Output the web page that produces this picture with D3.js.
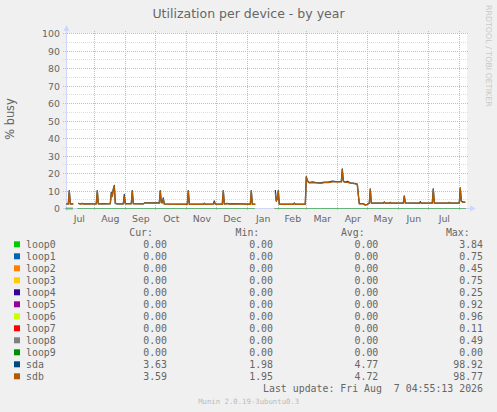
<!DOCTYPE html>
<html>
<head>
<meta charset="utf-8">
<script src="https://cdn.jsdelivr.net/npm/d3@7"></script>
<style>
  html, body { margin: 0; padding: 0; background: #F0F0F0; }
  svg { display: block; }
  text { fill: #666666; }
  .mono { font-family: "DejaVu Sans Mono", monospace; white-space: pre; }
  .sans { font-family: "DejaVu Sans", sans-serif; }
  .grid { shape-rendering: crispEdges; }
</style>
</head>
<body>
<div id="chart"></div>
<script>
// ============================================================================
// DATA
// ============================================================================

const seriesNames  = ["loop0", "loop1", "loop2", "loop3", "loop4", "loop5",
                      "loop6", "loop7", "loop8", "loop9", "sda", "sdb"];
const seriesColors = ["#00CC00", "#0066B3", "#FF8000", "#FFCC00", "#330099", "#990099",
                      "#CCFF00", "#FF0000", "#808080", "#008F00", "#00487D", "#B35A00"];

const curVals = ["0.00", "0.00", "0.00", "0.00", "0.00", "0.00", "0.00", "0.00", "0.00", "0.00", "3.63", "3.59"];
const minVals = ["0.00", "0.00", "0.00", "0.00", "0.00", "0.00", "0.00", "0.00", "0.00", "0.00", "1.98", "1.95"];
const avgVals = ["0.00", "0.00", "0.00", "0.00", "0.00", "0.00", "0.00", "0.00", "0.00", "0.00", "4.77", "4.72"];
const maxVals = ["3.84", "0.75", "0.45", "0.75", "0.25", "0.92", "0.96", "0.11", "0.49", "0.00", "98.92", "98.77"];

const yTicks = [0, 10, 20, 30, 40, 50, 60, 70, 80, 90, 100];

// loop devices: flat 0 where they have data
const loopSpans = [
    ["2025-07-03", "2025-07-10"],
    ["2025-07-15", "2026-01-08"],
    ["2026-01-28", "2026-08-07"]
];

// sda / sdb daily % busy (null = no data)
const sdDates = [
    "2025-07-03", "2025-07-05", "2025-07-06", "2025-07-07", "2025-07-10", "2025-07-12", "2025-07-15", "2025-07-17", "2025-07-19", "2025-07-21", "2025-07-30",
    "2025-08-02", "2025-08-03", "2025-08-04", "2025-08-10", "2025-08-12", "2025-08-16", "2025-08-17", "2025-08-18", "2025-08-19", "2025-08-20", "2025-08-21", "2025-08-23", "2025-08-29", "2025-08-30", "2025-08-31",
    "2025-09-06", "2025-09-07", "2025-09-08", "2025-09-18", "2025-09-20", "2025-09-22",
    "2025-10-04", "2025-10-05", "2025-10-06", "2025-10-07", "2025-10-08", "2025-10-09",
    "2025-11-01", "2025-11-02", "2025-11-03", "2025-11-17", "2025-11-18", "2025-11-19", "2025-11-27", "2025-11-28", "2025-11-29",
    "2025-12-06", "2025-12-07", "2025-12-08", "2025-12-11", "2025-12-13", "2025-12-15",
    "2026-01-03", "2026-01-04", "2026-01-05", "2026-01-08", "2026-01-18", "2026-01-28", "2026-01-29", "2026-01-30", "2026-01-31",
    "2026-02-01", "2026-02-15", "2026-02-16", "2026-02-17", "2026-02-27", "2026-02-28",
    "2026-03-01", "2026-03-03", "2026-03-06", "2026-03-10", "2026-03-14", "2026-03-18", "2026-03-22", "2026-03-26", "2026-03-30",
    "2026-04-04", "2026-04-05", "2026-04-06", "2026-04-08", "2026-04-10", "2026-04-13", "2026-04-17", "2026-04-20", "2026-04-21", "2026-04-22", "2026-04-26", "2026-04-28", "2026-04-30",
    "2026-05-02", "2026-05-03", "2026-05-04", "2026-05-16", "2026-05-17", "2026-05-18", "2026-05-22", "2026-05-23", "2026-05-24",
    "2026-06-05", "2026-06-06", "2026-06-07", "2026-06-21", "2026-06-22", "2026-06-23",
    "2026-07-04", "2026-07-05", "2026-07-06", "2026-07-20", "2026-07-21", "2026-07-22", "2026-07-31",
    "2026-08-01", "2026-08-02", "2026-08-04", "2026-08-06"
];

const sdaBusy = [
    2.7, 2.6, 10.2, 2.6, 2.6, null, 3.0, 2.6, 2.9, 2.6, 2.7,
    2.7, 10.2, 2.7, 2.8, 2.7, 2.8, 9.2, 7.0, 11.2, 13.2, 3.0, 2.7, 2.7, 8.0, 2.8,
    2.8, 10.2, 2.8, 2.7, 3.4, 3.2,
    3.2, 10.2, 3.4, 3.3, 6.0, 2.6,
    2.5, 10.2, 2.5, 2.5, 3.0, 2.5, 2.6, 4.3, 2.6,
    2.5, 10.2, 2.6, 2.9, 2.6, 2.8,
    2.5, 10.2, 2.5, 2.5, null, 10.6, 4.2, 5.5, 10.2,
    2.5, 2.5, 3.1, 2.5, 2.5, 18.2,
    16.0, 14.8, 15.2, 14.8, 14.6, 15.0, 15.0, 15.6, 15.4,
    15.3, 22.6, 15.8, 15.0, 15.5, 14.6, 14.3, 13.9, 8.0, 2.8, 2.8, 2.0, 2.4,
    3.1, 11.2, 3.1, 3.1, 3.8, 3.1, 3.1, 3.5, 3.1,
    3.1, 7.2, 3.2, 3.1, 3.9, 3.1,
    3.1, 11.2, 3.1, 3.1, 3.5, 3.1, 3.1,
    11.8, 4.2, 3.6, 3.7
];

const sdbBusy = [
    2.6, 2.5, 10.0, 2.5, 2.5, null, 2.9, 2.5, 2.8, 2.5, 2.6,
    2.6, 10.0, 2.6, 2.7, 2.6, 2.7, 8.6, 6.8, 10.8, 12.8, 2.9, 2.6, 2.6, 7.0, 2.7,
    2.7, 10.0, 2.7, 2.6, 3.3, 3.1,
    3.1, 10.0, 3.3, 3.2, 5.3, 2.5,
    2.4, 10.0, 2.4, 2.4, 2.9, 2.4, 2.5, 3.4, 2.5,
    2.4, 10.0, 2.5, 2.8, 2.5, 2.7,
    2.4, 10.0, 2.4, 2.4, null, 8.8, 4.5, 5.5, 10.0,
    2.4, 2.4, 3.0, 2.4, 2.4, 18.0,
    15.8, 14.6, 14.6, 14.6, 14.4, 14.8, 14.8, 15.2, 15.2,
    15.2, 22.0, 15.5, 14.9, 14.9, 14.5, 14.2, 13.8, 8.0, 2.7, 2.7, 1.9, 2.3,
    3.0, 11.0, 3.0, 3.0, 3.4, 3.0, 3.0, 3.3, 3.0,
    3.0, 7.0, 3.1, 3.0, 3.3, 3.0,
    3.0, 11.0, 3.0, 3.0, 3.4, 3.0, 3.0,
    11.5, 4.0, 3.5, 3.6
];

const timeStart = "2025-07-03T04:55:13Z";
const timeEnd   = "2026-08-07T04:55:13Z";


// ============================================================================
// SETUP
// ============================================================================

const W = 497, H = 412;
const plot = { left: 66, right: 466, top: 33, bottom: 208 };

const AXIS  = "#CFD6F8";
const MGRID = "#ffa4a4";
const GRID  = "#dddddd";

const parseDay = d3.utcParse("%Y-%m-%d");
const atNoon   = s => d3.utcHour.offset(parseDay(s), 12);
const crisp    = v => Math.floor(v) + 0.5;

const svg = d3.select("#chart")
    .append("svg")
    .attr("width", W)
    .attr("height", H);

const x = d3.scaleUtc()
    .domain([new Date(timeStart), new Date(timeEnd)])
    .range([plot.left, plot.right]);

const y = d3.scaleLinear()
    .domain([0, 100])
    .range([plot.bottom + 0.5, plot.top + 0.5]);

// canvas
svg.append("rect")
    .attr("x", plot.left)
    .attr("y", plot.top)
    .attr("width", plot.right - plot.left + 1)
    .attr("height", plot.bottom - plot.top + 1)
    .attr("fill", "#ffffff");


// ============================================================================
// GRID
// ============================================================================

const minorY = d3.range(5, 100, 10);

svg.selectAll("line.minor-y")
    .data(minorY)
    .join("line")
    .attr("class", "minor-y grid")
    .attr("x1", plot.left - 3).attr("x2", plot.right + 3)
    .attr("y1", d => crisp(y(d))).attr("y2", d => crisp(y(d)))
    .attr("stroke", GRID)
    .attr("stroke-dasharray", "1,1");

svg.selectAll("line.major-y")
    .data(yTicks.filter(d => d > 0))
    .join("line")
    .attr("class", "major-y grid")
    .attr("x1", plot.left - 3).attr("x2", plot.right + 3)
    .attr("y1", d => crisp(y(d))).attr("y2", d => crisp(y(d)))
    .attr("stroke", MGRID)
    .attr("stroke-dasharray", "1,1");

const monthStarts = d3.utcMonth.range(x.domain()[0], x.domain()[1])
    .filter(d => d > x.domain()[0]);

svg.selectAll("line.major-x")
    .data(monthStarts)
    .join("line")
    .attr("class", "major-x grid")
    .attr("x1", d => crisp(x(d))).attr("x2", d => crisp(x(d)))
    .attr("y1", plot.top - 2).attr("y2", plot.bottom + 3)
    .attr("stroke", MGRID)
    .attr("stroke-dasharray", "1,1");


// ============================================================================
// AXES
// ============================================================================

svg.append("line")
    .attr("x1", plot.left + 0.5).attr("x2", plot.left + 0.5)
    .attr("y1", plot.bottom + 3).attr("y2", plot.top - 4)
    .attr("stroke", AXIS);

svg.append("path")
    .attr("d", `M${plot.left - 2.5},${plot.top - 2} L${plot.left + 3.5},${plot.top - 2} L${plot.left + 0.5},${plot.top - 8} Z`)
    .attr("fill", AXIS);

svg.append("line")
    .attr("x1", plot.left - 3).attr("x2", plot.right + 5)
    .attr("y1", y(0)).attr("y2", y(0))
    .attr("stroke", AXIS);

svg.append("path")
    .attr("d", `M${plot.right + 4},${y(0) - 3} L${plot.right + 4},${y(0) + 3} L${plot.right + 10},${y(0)} Z`)
    .attr("fill", AXIS);

// y tick labels
svg.selectAll("text.y-tick")
    .data(yTicks)
    .join("text")
    .attr("class", "y-tick sans")
    .attr("x", 60)
    .attr("y", d => crisp(y(d)))
    .attr("dy", "0.35em")
    .attr("text-anchor", "end")
    .style("font-size", "9.4px")
    .text(d => d);

// month labels, centred mid-month
const fmtMonth = d3.utcFormat("%b");
const monthMids = d3.utcMonth.range(d3.utcMonth.floor(x.domain()[0]), x.domain()[1])
    .map(m => new Date((+m + +d3.utcMonth.offset(m, 1)) / 2))
    .filter(d => d >= x.domain()[0] && d <= x.domain()[1]);

svg.selectAll("text.x-tick")
    .data(monthMids)
    .join("text")
    .attr("class", "x-tick sans")
    .attr("x", d => x(d))
    .attr("y", 221.5)
    .attr("text-anchor", "middle")
    .style("font-size", "9.4px")
    .text(d => fmtMonth(d));


// ============================================================================
// SERIES
// ============================================================================

const line = d3.line()
    .defined(d => d.v !== null)
    .x(d => x(d.t))
    .y(d => y(d.v));

// loops (all zero) — stacked in a faded group so the last one shows softly
const loopG = svg.append("g").attr("opacity", 0.5);

seriesNames.slice(0, 10).forEach((name, i) => {
    loopG.selectAll(`path.${name}`)
        .data(loopSpans)
        .join("path")
        .attr("class", name)
        .attr("d", span => line(span.map(s => ({ t: parseDay(s), v: 0 }))))
        .attr("fill", "none")
        .attr("stroke", seriesColors[i])
        .attr("stroke-width", 1.2);
});

const sdaPts = sdDates.map((s, i) => ({ t: atNoon(s), v: sdaBusy[i] }));
const sdbPts = sdDates.map((s, i) => ({ t: atNoon(s), v: sdbBusy[i] }));

svg.append("path")
    .attr("d", line(sdaPts))
    .attr("fill", "none")
    .attr("stroke", seriesColors[10])
    .attr("stroke-width", 1.3)
    .attr("stroke-linejoin", "round");

svg.append("path")
    .attr("d", line(sdbPts))
    .attr("fill", "none")
    .attr("stroke", seriesColors[11])
    .attr("stroke-width", 1.3)
    .attr("stroke-linejoin", "round");


// ============================================================================
// TITLES
// ============================================================================

svg.append("text")
    .attr("class", "sans")
    .attr("x", 248.5)
    .attr("y", 13.5)
    .attr("dy", "0.35em")
    .attr("text-anchor", "middle")
    .style("font-size", "12.5px")
    .text("Utilization per device - by year");

svg.append("text")
    .attr("class", "sans")
    .attr("transform", "translate(10,119) rotate(-90)")
    .attr("dy", "0.35em")
    .attr("text-anchor", "middle")
    .style("font-size", "11.4px")
    .text("% busy");

svg.append("text")
    .attr("class", "sans")
    .attr("transform", "translate(488.5,5) rotate(90)")
    .attr("dy", "0.35em")
    .attr("text-anchor", "start")
    .style("font-size", "7.9px")
    .style("fill", "#c8c8c8")
    .text("RRDTOOL / TOBI OETIKER");


// ============================================================================
// LEGEND
// ============================================================================

const headerX = [153, 259.3, 364.7, 469.7];
const valueX  = [167, 273, 378.3, 483];
const columns = [curVals, minVals, avgVals, maxVals];
const rowY    = i => 244.3 + 12 * i;
const legFont = "9.9px";

svg.selectAll("text.header")
    .data(["Cur:", "Min:", "Avg:", "Max:"])
    .join("text")
    .attr("class", "header mono")
    .attr("x", (d, i) => headerX[i])
    .attr("y", 232.3)
    .attr("dy", "0.35em")
    .attr("text-anchor", "end")
    .style("font-size", legFont)
    .text(d => d);

const rows = svg.selectAll("g.legend-row")
    .data(seriesNames)
    .join("g")
    .attr("class", "legend-row");

rows.append("rect")
    .attr("x", 14)
    .attr("y", (d, i) => rowY(i) - 3)
    .attr("width", 6)
    .attr("height", 6)
    .attr("fill", (d, i) => seriesColors[i]);

rows.append("text")
    .attr("class", "mono")
    .attr("x", 26)
    .attr("y", (d, i) => rowY(i))
    .attr("dy", "0.35em")
    .style("font-size", legFont)
    .text(d => d);

columns.forEach((col, c) => {
    rows.append("text")
        .attr("class", "mono")
        .attr("x", valueX[c])
        .attr("y", (d, i) => rowY(i))
        .attr("dy", "0.35em")
        .attr("text-anchor", "end")
        .style("font-size", legFont)
        .text((d, i) => col[i]);
});

svg.append("text")
    .attr("class", "mono")
    .attr("x", 483)
    .attr("y", 388.5)
    .attr("dy", "0.35em")
    .attr("text-anchor", "end")
    .style("font-size", legFont)
    .text("Last update: Fri Aug  7 04:55:13 2026");

svg.append("text")
    .attr("class", "mono")
    .attr("x", 248.7)
    .attr("y", 401)
    .attr("dy", "0.35em")
    .attr("text-anchor", "middle")
    .style("font-size", "7.3px")
    .style("fill", "#bbbbbb")
    .text("Munin 2.0.19-3ubuntu0.3");
</script>
</body>
</html>
